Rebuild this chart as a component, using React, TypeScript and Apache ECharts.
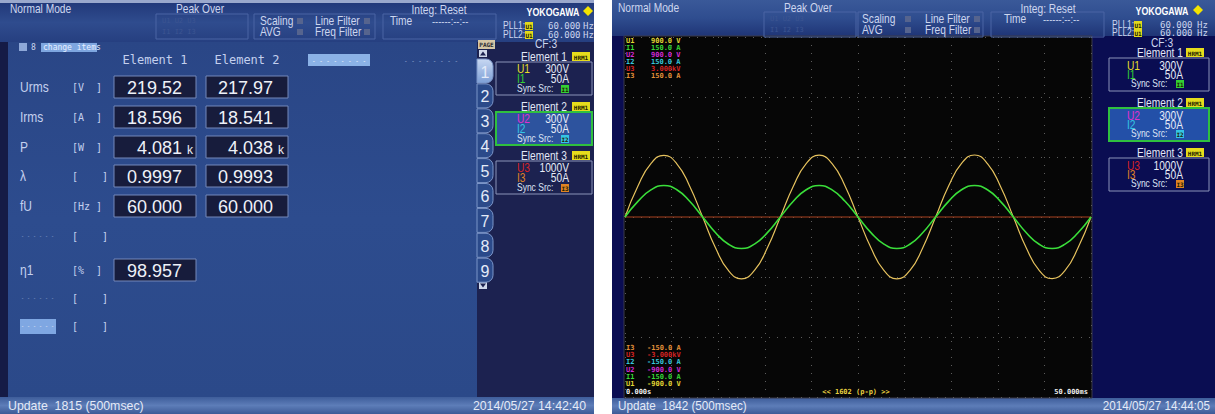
import React, { useEffect, useRef } from 'react';
import * as echarts from 'echarts';

// ---- waveform data ----
const timeMs = [0, 1.39, 2.78, 4.17, 5.56, 6.94, 8.33, 9.72, 11.11, 12.5, 13.89, 15.28, 16.67, 18.06, 19.44, 20.83, 22.22, 23.61, 25, 26.39, 27.78, 29.17, 30.56, 31.94, 33.33, 34.72, 36.11, 37.5, 38.89, 40.28, 41.67, 43.06, 44.44, 45.83, 47.22, 48.61, 50];
const u1Volts = [0, 155, 267, 308, 266, 154, 0, -155, -268, -309, -267, -154, 0, 154, 267, 309, 267, 155, 0, -154, -267, -309, -268, -155, 0, 155, 268, 310, 267, 154, 0, -155, -267, -308, -267, -154, 0];
const i1Amps = [0, 13.0, 22.6, 26.2, 22.7, 13.1, 0, -13.1, -22.7, -26.2, -22.6, -13.0, 0, 13.1, 22.7, 26.3, 22.6, 13.1, 0, -13.0, -22.6, -26.2, -22.7, -13.1, 0, 13.0, 22.7, 26.3, 22.7, 13.0, 0, -13.1, -22.7, -26.2, -22.6, -13.1, 0];
const zeroTime = [0, 50];
const zeroVal = [0, 0];

// ---- numeric table (left screenshot) ----
const rowLabels = ['Urms', 'Irms', 'P', 'λ', 'fU', '------', 'η1', '------', '------'];
const rowUnits = ['[V  ]', '[A  ]', '[W  ]', '[    ]', '[Hz ]', '[    ]', '[%  ]', '[    ]', '[    ]'];
const element1Values = ['219.52', '18.596', '4.081', '0.9997', '60.000', '', '98.957', '', ''];
const element2Values = ['217.97', '18.541', '4.038', '0.9993', '60.000', '', '', '', ''];
const valuePrefix = ['', '', 'k', '', '', '', '', '', ''];
const pageTabs = ['1', '2', '3', '4', '5', '6', '7', '8', '9'];

// ---- element ranges ----
const elementTitles = ['Element 1', 'Element 2', 'Element 3'];
const voltNames = ['U1', 'U2', 'U3'];
const voltRanges = ['300V', '300V', '1000V'];
const currNames = ['I1', 'I2', 'I3'];
const currRanges = ['50A', '50A', '50A'];
const voltColors = ['#e6de28', '#e030d0', '#d82424'];
const currColors = ['#34d034', '#34c4e4', '#e08424'];

// ---- scale labels in the waveform ----
const topScaleNames = ['U1', 'I1', 'U2', 'I2', 'U3', 'I3'];
const topScaleValues = ['900.0 V', '150.0 A', '900.0 V', '150.0 A', '3.000kV', '150.0 A'];
const topScaleColors = ['#e2d634', '#38d838', '#d42ad4', '#38c8dc', '#d42424', '#e4923a'];
const bottomScaleNames = ['I3', 'U3', 'I2', 'U2', 'I1', 'U1'];
const bottomScaleValues = ['-150.0 A', '-3.000kV', '-150.0 A', '-900.0 V', '-150.0 A', '-900.0 V'];
const bottomScaleColors = ['#e4923a', '#d42424', '#38c8dc', '#d42ad4', '#38d838', '#e2d634'];

const SANS = "'Liberation Sans', Arial, sans-serif";
const MONO = "'DejaVu Sans Mono', monospace";

const LG = (cols: string[]) =>
  new echarts.graphic.LinearGradient(0, 0, 0, 1, cols.map((c, i) => ({ offset: i / (cols.length - 1), color: c })));

const txt = (x: number, y: number, text: string, o: any = {}) => ({
  type: 'text', x, y, z: o.z ?? 10, silent: true,
  scaleX: o.sx ?? 1,
  style: {
    text, fill: o.c ?? '#cdd6ef', font: o.f ?? `12px ${SANS}`,
    align: o.a ?? 'left', textAlign: o.a ?? 'left', verticalAlign: 'middle', textVerticalAlign: 'middle',
  },
});
// narrow font: sans scaled horizontally like the instrument's condensed font
const ntxt = (x: number, y: number, text: string, size: number, o: any = {}) =>
  txt(x, y, text, { ...o, f: `${o.b ? 'bold ' : ''}${size}px ${SANS}`, sx: o.sx ?? 0.85 });
const rect = (x: number, y: number, w: number, h: number, fill: any, o: any = {}) => ({
  type: 'rect', z: o.z ?? 5, silent: true,
  shape: { x, y, width: w, height: h, r: o.r ?? 0 },
  style: { fill, stroke: o.s ?? null, lineWidth: o.lw ?? 1 },
});
const badge = (x: number, y: number, w: number, h: number, bg: string, t: string, tc = '#202000') => [
  rect(x, y, w, h, bg, { z: 9 }),
  txt(x + w / 2, y + h / 2 + 0.5, t, { a: 'center', c: tc, f: `bold 6px ${MONO}`, z: 10 }),
];
const diamond = (cx: number, cy: number, r: number) => ({
  type: 'polygon', z: 10, silent: true,
  shape: { points: [[cx, cy - r], [cx + r, cy], [cx, cy + r], [cx - r, cy]] },
  style: { fill: '#f4e400' },
});

function header(p: any) {
  const g: any[] = [];
  const box = '#4b64a4';
  g.push(ntxt(p.nm, p.y1, 'Normal Mode', 12));
  g.push(ntxt(p.pk, p.y1, 'Peak Over', 12, { a: 'center' }));
  g.push(rect(p.pkBox[0], p.y2 - 7, p.pkBox[1], 25, 'rgba(0,0,0,0)', { s: box }));
  g.push(txt(p.pkBox[0] + 6, p.y2, 'U1 U2 U3', { c: '#3c5592', f: `7px ${MONO}` }));
  g.push(txt(p.pkBox[0] + 6, p.y3, 'I1 I2 I3', { c: '#3c5592', f: `7px ${MONO}` }));
  g.push(rect(p.flBox[0], p.y2 - 7, p.flBox[1], 25, 'rgba(0,0,0,0)', { s: box }));
  g.push(rect(p.tmBox[0], p.y2 - 7, p.tmBox[1], 25, 'rgba(0,0,0,0)', { s: box }));
  g.push(ntxt(p.sc, p.y2, 'Scaling', 12));
  g.push(ntxt(p.sc, p.y3, 'AVG', 12));
  g.push(rect(p.sq1, p.y2 - 3, 6, 6, '#56648e', { z: 9 }));
  g.push(rect(p.sq1, p.y3 - 3, 6, 6, '#56648e', { z: 9 }));
  g.push(ntxt(p.lf, p.y2, 'Line Filter', 12));
  g.push(ntxt(p.lf, p.y3, 'Freq Filter', 12));
  g.push(rect(p.sq2, p.y2 - 3, 6, 6, '#56648e', { z: 9 }));
  g.push(rect(p.sq2, p.y3 - 3, 6, 6, '#56648e', { z: 9 }));
  g.push(ntxt(p.ig, p.y1 + 1, 'Integ: Reset', 12, { a: 'center' }));
  g.push(ntxt(p.tm, p.y2, 'Time', 12));
  g.push(ntxt(p.ds, p.y2, '------:--:--', 11));
  g.push(ntxt(p.yk, p.y1 + 3, 'YOKOGAWA', 11, { a: 'center', c: '#ffffff', b: true, sx: 0.8 }));
  g.push(diamond(p.dm, p.y1 + 2, 5));
  [[p.pl1, 'PLL1:'], [p.pl2, 'PLL2:']].forEach(([yy, lab]: any) => {
    g.push(ntxt(p.pl, yy, lab, 10));
    g.push(...badge(p.pb, yy - 4, 8, 8, '#e2da1c', 'U1'));
    g.push(txt(p.hz, yy, '60.000', { f: `9px ${MONO}` }));
    g.push(txt(p.hzu, yy, 'Hz', { f: `9px ${MONO}` }));
  });
  return g;
}

function elementPanel(p: any) {
  const g: any[] = [];
  g.push(ntxt(p.tx + 2, p.cfY, 'CF:3', 12, { a: 'center' }));
  for (let k = 0; k < 3; k++) {
    const top = p.tops[k];
    g.push(ntxt(p.tx, top - 5, elementTitles[k], 12, { a: 'center', c: '#e2e8f6' }));
    g.push(...badge(p.hrm, top - 10, 18, 9, '#e6dc1c', 'HRM1'));
    if (k === 1) g.push(rect(p.bx, top, p.bw, 33, p.selFill, { s: '#2fc03f', lw: 2 }));
    else g.push(rect(p.bx, top, p.bw, 33, 'rgba(0,0,0,0)', { s: '#8a93b8' }));
    g.push(ntxt(p.nx, top + p.dy[0], voltNames[k], 12, { c: voltColors[k] }));
    g.push(ntxt(p.vr, top + p.dy[0], voltRanges[k], 12, { a: 'right', c: '#e8ecf8' }));
    g.push(ntxt(p.nx, top + p.dy[1], currNames[k], 12, { c: currColors[k] }));
    g.push(ntxt(p.vr, top + p.dy[1], currRanges[k], 12, { a: 'right', c: '#e8ecf8' }));
    g.push(ntxt(p.sx, top + p.dy[2], 'Sync Src:', 10, { c: '#dfe5f5' }));
    g.push(...badge(p.bgx, top + p.dy[2] - 4, 8, 8, currColors[k], currNames[k]));
  }
  return g;
}

export default function App() {
  const ref = useRef<HTMLDivElement>(null);
  useEffect(() => {
    const chart = echarts.init(ref.current!, null, { renderer: 'svg' });
    const G: any[] = [];

    // ===== LEFT SCREENSHOT =====
    G.push(rect(0, 0, 594, 414, '#151b46', { z: -10 }));
    G.push(rect(0, 0, 594, 3, '#9aa8cc', { z: -9 }));
    G.push(rect(0, 3, 594, 39, LG(['#22397a', '#2f4c8e', '#263f80']), { z: -9 }));
    G.push(rect(8, 42, 469, 355, LG(['#2a4686', '#2d4c8e', '#2b4989']), { z: -9 }));
    G.push(rect(477, 42, 117, 355, '#1c2250', { z: -9 }));
    G.push(rect(0, 397, 594, 17, LG(['#3e5d9a', '#5d7db8', '#3c5a96']), { z: -9 }));
    G.push(...header({
      nm: 10, pk: 200, y1: 9, y2: 21, y3: 32, pkBox: [156, 92], flBox: [254, 121], tmBox: [383, 113],
      sc: 260, sq1: 297, lf: 315, sq2: 364, ig: 439, tm: 390, ds: 432, yk: 553, dm: 588,
      pl: 503, pl1: 26, pl2: 35, pb: 525, hz: 548, hzu: 583,
    }));
    // change items line
    G.push(rect(19, 43, 8, 8, '#8ea8d8'));
    G.push(txt(31, 47.5, '8', { f: `8px ${MONO}` }));
    G.push(rect(41, 43, 56, 9, '#7ea6e0'));
    G.push(txt(43, 47.5, 'change items', { c: '#e6eeff', f: `8px ${MONO}` }));
    // column headers
    G.push(txt(155, 60, 'Element 1', { a: 'center', c: '#c4d0ee', f: `12px ${MONO}` }));
    G.push(txt(247, 60, 'Element 2', { a: 'center', c: '#c4d0ee', f: `12px ${MONO}` }));
    G.push(rect(308, 54, 62, 12, '#8bb2e6'));
    G.push(txt(339, 60, '- - - - - - - -', { a: 'center', c: '#ffffff', f: `6px ${MONO}` }));
    G.push(txt(431, 60, '- - - - - - - -', { a: 'center', c: '#a8badf', f: `6px ${MONO}` }));
    const rowY = [87, 117, 147, 176, 206, 236, 270, 298, 326];
    rowLabels.forEach((lab, i) => {
      const y = rowY[i];
      if (i === 8) G.push(rect(20, y - 7, 36, 15, '#7fa7e2'));
      const dash = lab.startsWith('-');
      if (dash) G.push(txt(21, y, '- - - - - -', { c: i === 8 ? '#ffffff' : '#a8badf', f: `5px ${MONO}` }));
      else G.push(ntxt(20, y, lab, 15, { c: '#c4d0ee', sx: 0.8 }));
      G.push(txt(72, y, rowUnits[i], { c: '#c4d0ee', f: `10px ${MONO}` }));
      [[element1Values[i], 114, 182], [element2Values[i], 206, 273]].forEach(([v, bx, rx]: any) => {
        if (!v) return;
        G.push(rect(bx, y - 11, 82, 22, '#171c3c', { s: '#7488ba' }));
        G.push(txt(rx, y + 1, v, { a: 'right', c: '#eef1f8', f: `18px ${SANS}` }));
        if (valuePrefix[i]) G.push(txt(rx + 5, y + 3, valuePrefix[i], { c: '#eef1f8', f: `12px ${SANS}` }));
      });
    });
    // page tabs
    G.push(rect(478, 40, 17, 9, '#d4c6a6'));
    G.push(txt(486.5, 44.5, 'PAGE', { a: 'center', c: '#2a2a30', f: `bold 6px ${MONO}` }));
    G.push(rect(479, 50, 8, 7, '#cfd8ea'));
    G.push({ type: 'polygon', z: 10, silent: true, shape: { points: [[483, 51.5], [486, 55.5], [480, 55.5]] }, style: { fill: '#1c2250' } });
    pageTabs.forEach((t, i) => {
      const cy = 71 + i * 24.9;
      G.push(rect(477, cy - 12, 16, 24, i === 0 ? LG(['#c8d8f2', '#7d9fd6']) : '#2b4a8a', { s: '#7b95c8', r: [0, 7, 7, 0], z: 6 }));
      G.push(txt(485, cy + 1, t, { a: 'center', c: '#e4ebf8', f: `16px ${SANS}` }));
    });
    G.push(rect(479, 282, 8, 7, '#cfd8ea'));
    G.push({ type: 'polygon', z: 10, silent: true, shape: { points: [[480, 283.5], [486, 283.5], [483, 287.5]] }, style: { fill: '#1c2250' } });
    G.push(...elementPanel({
      tx: 544, cfY: 44, tops: [62, 112, 161], hrm: 572, bx: 496, bw: 96, selFill: '#2d539e',
      nx: 517, vr: 569, sx: 517, bgx: 561, dy: [7, 17, 27],
    }));
    G.push(ntxt(8, 406, 'Update  1815 (500msec)', 13, { c: '#e4eaf7', sx: 0.95 }));
    G.push(ntxt(586, 406, '2014/05/27 14:42:40', 13, { a: 'right', c: '#e4eaf7', sx: 0.95 }));

    // ===== RIGHT SCREENSHOT =====
    G.push(rect(612, 0, 603, 414, '#0a0d52', { z: -10 }));
    G.push(rect(612, 0, 603, 36, LG(['#3a5999', '#2f4d8f', '#1f3576']), { z: -9 }));
    G.push(rect(624, 36, 468, 362, '#060606', { z: -8, s: '#3a3a4a' }));
    G.push(rect(612, 398, 603, 16, LG(['#3e5d9a', '#5d7db8', '#3c5a96']), { z: -9 }));
    G.push(...header({
      nm: 618, pk: 808, y1: 8, y2: 19, y3: 30, pkBox: [764, 92], flBox: [858, 125], tmBox: [991, 113],
      sc: 862, sq1: 905, lf: 925, sq2: 974, ig: 1048, tm: 1004, ds: 1043, yk: 1162, dm: 1198,
      pl: 1112, pl1: 25, pl2: 33, pb: 1134, hz: 1160, hzu: 1197,
    }));
    G.push(...elementPanel({
      tx: 1160, cfY: 43, tops: [58, 108, 158], hrm: 1186, bx: 1109, bw: 100, selFill: '#2350a8',
      nx: 1127, vr: 1183, sx: 1131, bgx: 1176, dy: [8, 17, 26],
    }));
    topScaleNames.forEach((n, i) => {
      const y = 41 + i * 7;
      G.push(txt(626, y, n, { c: topScaleColors[i], f: `bold 7px ${MONO}` }));
      G.push(txt(651, y, topScaleValues[i], { c: topScaleColors[i], f: `bold 7px ${MONO}` }));
    });
    bottomScaleNames.forEach((n, i) => {
      const y = 348 + i * 7.2;
      G.push(txt(626, y, n, { c: bottomScaleColors[i], f: `bold 7px ${MONO}` }));
      G.push(txt(647, y, bottomScaleValues[i], { c: bottomScaleColors[i], f: `bold 7px ${MONO}` }));
    });
    G.push(txt(626, 392, '0.000s', { c: '#f0f0f0', f: `bold 7px ${MONO}` }));
    G.push(txt(856, 392, '<< 1602 (p-p) >>', { a: 'center', c: '#e8d040', f: `bold 7px ${MONO}` }));
    G.push(txt(1088, 392, '50.000ms', { a: 'right', c: '#f0f0f0', f: `bold 7px ${MONO}` }));
    G.push(ntxt(618, 406, 'Update  1842 (500msec)', 13, { c: '#e4eaf7', sx: 0.9 }));
    G.push(ntxt(1210, 406, '2014/05/27 14:44:05', 13, { a: 'right', c: '#e4eaf7', sx: 0.9 }));

    const dotted = { show: true, lineStyle: { color: '#5c5c5c', type: [1, 7] as any, width: 1 } };
    const option: any = {
      animation: false,
      backgroundColor: '#ffffff',
      grid: { left: 625, top: 37, width: 466, height: 360, containLabel: false },
      xAxis: {
        type: 'value', min: 0, max: 50, interval: 5,
        axisLine: { show: false }, axisTick: { show: false }, axisLabel: { show: false }, splitLine: dotted,
      },
      yAxis: [
        { type: 'value', min: -900, max: 900, interval: 300, axisLine: { show: false }, axisTick: { show: false }, axisLabel: { show: false }, splitLine: dotted },
        { type: 'value', min: -150, max: 150, interval: 50, axisLine: { show: false }, axisTick: { show: false }, axisLabel: { show: false }, splitLine: { show: false } },
      ],
      series: [
        {
          name: 'U3', type: 'line', yAxisIndex: 0, symbol: 'none', z: 3,
          data: zeroTime.map((t, i) => [t, zeroVal[i]]),
          lineStyle: { color: '#a8401e', width: 1 },
        },
        {
          name: 'U1', type: 'line', yAxisIndex: 0, symbol: 'none', smooth: 0.5, z: 4,
          data: timeMs.map((t, i) => [t, u1Volts[i]]),
          lineStyle: { color: '#e6c25e', width: 1.2 },
        },
        {
          name: 'I1', type: 'line', yAxisIndex: 1, symbol: 'none', smooth: 0.5, z: 5,
          data: timeMs.map((t, i) => [t, i1Amps[i]]),
          lineStyle: { color: '#3ade3a', width: 1.6 },
        },
      ],
      graphic: { elements: G },
    };
    chart.setOption(option);
    return () => chart.dispose();
  }, []);
  return <div ref={ref} style={{ position: 'fixed', left: 0, top: 0, width: 1215, height: 414 }} />;
}
